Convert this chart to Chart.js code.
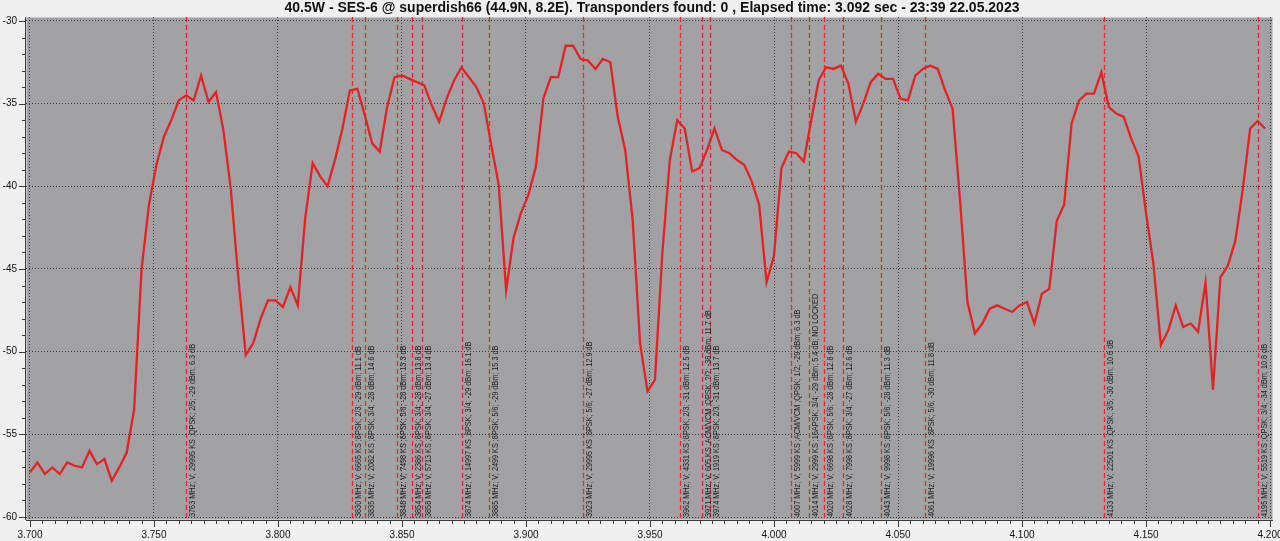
<!DOCTYPE html>
<html lang="en">
<head>
  <meta charset="UTF-8" />
  <title>SES-6 spectrum scan</title>
  <script src="https://cdn.jsdelivr.net/npm/chart.js"></script>
  <style>
    html, body {
      margin: 0;
      padding: 0;
      background: #f0f0f0;
    }

    /* Fixed size box, same as the screenshot */
    .chart-container {
      width: 1280px;
      height: 541px;
      position: relative;
    }
  </style>
</head>
<body>
  <div class="chart-container">
    <canvas id="spectrumChart"></canvas>
  </div>

  <script>
    const chartTitle = '40.5W - SES-6 @ superdish66 (44.9N, 8.2E). Transponders found: 0 , Elapsed time: 3.092 sec - 23:39 22.05.2023';

    // Sweep points (MHz) and measured level (dBm)
    const freqMHz = [
      3700, 3703, 3706, 3709, 3712, 3715, 3718, 3721, 3724, 3727,
      3730, 3733, 3736, 3739, 3742, 3745, 3748, 3751, 3754, 3757,
      3760, 3763, 3766, 3769, 3772, 3775, 3778, 3781, 3784, 3787,
      3790, 3793, 3796, 3799, 3802, 3805, 3808, 3811, 3814, 3817,
      3820, 3823, 3826, 3829, 3832, 3835, 3838, 3841, 3844, 3847,
      3850, 3853, 3856, 3859, 3862, 3865, 3868, 3871, 3874, 3877,
      3880, 3883, 3886, 3889, 3892, 3895, 3898, 3901, 3904, 3907,
      3910, 3913, 3916, 3919, 3922, 3925, 3928, 3931, 3934, 3937,
      3940, 3943, 3946, 3949, 3952, 3955, 3958, 3961, 3964, 3967,
      3970, 3973, 3976, 3979, 3982, 3985, 3988, 3991, 3994, 3997,
      4000, 4003, 4006, 4009, 4012, 4015, 4018, 4021, 4024, 4027,
      4030, 4033, 4036, 4039, 4042, 4045, 4048, 4051, 4054, 4057,
      4060, 4063, 4066, 4069, 4072, 4075, 4078, 4081, 4084, 4087,
      4090, 4093, 4096, 4099, 4102, 4105, 4108, 4111, 4114, 4117,
      4120, 4123, 4126, 4129, 4132, 4135, 4138, 4141, 4144, 4147,
      4150, 4153, 4156, 4159, 4162, 4165, 4168, 4171, 4174, 4177,
      4180, 4183, 4186, 4189, 4192, 4195, 4198
    ];

    const levelDbm = [
      -57.3, -56.7, -57.4, -57.0, -57.4, -56.7, -56.9, -57.0, -56.0, -56.8,
      -56.5, -57.8, -57.0, -56.1, -53.5, -45.0, -41.1, -38.7, -37.0, -36.0,
      -34.8, -34.5, -34.8, -33.3, -34.9, -34.3, -36.6, -40.2, -45.5, -50.2,
      -49.5, -48.0, -46.9, -46.9, -47.3, -46.1, -47.2, -41.9, -38.6, -39.4,
      -40.0, -38.4, -36.5, -34.2, -34.1, -35.7, -37.4, -37.9, -35.2, -33.4,
      -33.3, -33.5, -33.7, -33.9, -35.1, -36.1, -34.7, -33.6, -32.8, -33.4,
      -34.0, -35.0, -37.5, -39.9, -46.3, -43.1, -41.6, -40.5, -38.8, -34.7,
      -33.4, -33.4, -31.5, -31.5, -32.3, -32.4, -32.9, -32.3, -32.5, -35.8,
      -37.8, -42.0, -49.5, -52.4, -51.7, -44.0, -38.4, -36.0, -36.5, -39.1,
      -38.9, -37.8, -36.5, -37.8, -38.0, -38.4, -38.7, -39.7, -41.1, -45.8,
      -44.2, -38.9, -37.9, -38.0, -38.5, -36.0, -33.6, -32.8, -32.9, -32.7,
      -33.8, -36.1, -35.0, -33.7, -33.2, -33.5, -33.5, -34.7, -34.8, -33.3,
      -32.9, -32.7, -32.9, -34.2, -35.3, -40.8, -47.0, -48.9, -48.3, -47.4,
      -47.2, -47.4, -47.6, -47.2, -47.0, -48.3, -46.5, -46.2, -42.1, -41.1,
      -36.2, -34.8, -34.4, -34.4, -33.1, -35.2, -35.6, -35.8, -37.1, -38.2,
      -41.6, -44.7, -49.6, -48.7, -47.2, -48.5, -48.3, -48.8, -45.8, -52.3,
      -45.5, -44.8, -43.3, -40.2, -36.5, -36.05, -36.5
    ];

    // Transponders found by the blind scan
    const tpFreqMHz = [
      3763, 3830, 3835, 3848, 3854, 3858, 3874, 3885, 3923, 3962,
      3971, 3974, 4007, 4014, 4020, 4028, 4043, 4061, 4133, 4195
    ];

    const tpLabels = [
      '3763 MHz; V; 29995 KS ;QPSK; 2/5; -29 dBm; 6.3 dB',
      '3830 MHz; V; 6665 KS ;8PSK; 2/3; -29 dBm; 11.1 dB',
      '3835 MHz; V; 2082 KS ;8PSK; 3/4; -28 dBm; 14.6 dB',
      '3848 MHz; V; 7498 KS ;8PSK; 5/6; -28 dBm; 13.3 dB',
      '3854 MHz; V; 2386 KS ;8PSK; 3/4; -28 dBm; 13.8 dB',
      '3858 MHz; V; 5713 KS ;8PSK; 3/4; -27 dBm; 13.4 dB',
      '3874 MHz; V; 14997 KS ;8PSK; 3/4; -29 dBm; 16.1 dB',
      '3885 MHz; V; 2499 KS ;8PSK; 5/6; -29 dBm; 15.3 dB',
      '3923 MHz; V; 29995 KS ;8PSK; 5/6; -27 dBm; 12.9 dB',
      '3962 MHz; V; 4331 KS ;8PSK; 2/3; -31 dBm; 12.5 dB',
      '3971 MHz; V; 605 KS ;ACM/VCM ;QPSK; ?/?; -38 dBm; 11.7 dB',
      '3974 MHz; V; 1919 KS ;8PSK; 2/3; -31 dBm; 13.7 dB',
      '4007 MHz; V; 5999 KS ;ACM/VCM ;QPSK; 1/2; -29 dBm; 6.3 dB',
      '4014 MHz; V; 2999 KS ;16APSK; 3/4; -29 dBm; 5.4 dB; NO LOCKED',
      '4020 MHz; V; 6698 KS ;8PSK; 5/6; -28 dBm; 12.8 dB',
      '4028 MHz; V; 7998 KS ;8PSK; 3/4; -27 dBm; 12.6 dB',
      '4043 MHz; V; 9998 KS ;8PSK; 5/6; -28 dBm; 11.3 dB',
      '4061 MHz; V; 19996 KS ;8PSK; 5/6; -30 dBm; 11.8 dB',
      '4133 MHz; V; 22501 KS ;QPSK; 3/5; -30 dBm; 10.6 dB',
      '4195 MHz; V; 5519 KS ;QPSK; 3/4; -34 dBm; 10.8 dB'
    ];

    // Axis ticks
    const xTicks = [3.700, 3.750, 3.800, 3.850, 3.900, 3.950, 4.000, 4.050, 4.100, 4.150, 4.200];
    const yTicks = [-30, -35, -40, -45, -50, -55, -60];

    const FONT = '"Liberation Sans", Arial, sans-serif';
    const GRID_COLOR = 'rgba(45, 45, 45, 0.85)';
    const AXIS_COLOR = '#3c3c3c';
    const PLOT_BG = '#a1a1a6';
    const TRACE_RED = '#e52222';
    const TP_RED = '#e42a2a';

    // Background, title, transponder markers, minor ticks
    const scanDecor = {
      id: 'scanDecor',
      beforeDraw(chart) {
        const { ctx, chartArea: a } = chart;
        ctx.save();
        ctx.fillStyle = '#f0f0f0';
        ctx.fillRect(0, 0, chart.width, chart.height);
        ctx.fillStyle = PLOT_BG;
        ctx.fillRect(a.left, a.top, a.right - a.left, a.bottom - a.top);
        ctx.strokeStyle = '#c8c8c8';
        ctx.lineWidth = 1;
        ctx.strokeRect(a.left + 0.5, a.top + 0.5, a.right - a.left - 1, a.bottom - a.top - 1);

        // title sits a bit right of the centre, like the original program
        ctx.font = 'bold 14px ' + FONT;
        ctx.fillStyle = '#111';
        ctx.textAlign = 'center';
        ctx.textBaseline = 'middle';
        ctx.fillText(chartTitle, 652, 8.5);
        ctx.restore();
      },
      beforeDatasetsDraw(chart) {
        const { ctx, chartArea: a } = chart;
        const xs = chart.scales.x;
        ctx.save();
        ctx.strokeStyle = TP_RED;
        ctx.lineWidth = 1.3;
        ctx.setLineDash([5, 3]);
        tpFreqMHz.forEach(f => {
          const px = Math.round(xs.getPixelForValue(f / 1000)) + 0.5;
          ctx.beginPath();
          ctx.moveTo(px, a.top);
          ctx.lineTo(px, a.bottom);
          ctx.stroke();
        });
        ctx.restore();
      },
      afterDatasetsDraw(chart) {
        const { ctx, chartArea: a } = chart;
        const xs = chart.scales.x;
        const ys = chart.scales.y;
        ctx.save();

        // vertical transponder texts, reading bottom to top
        ctx.font = '9px ' + FONT;
        const squeeze = 173 / ctx.measureText(tpLabels[0]).width;
        ctx.fillStyle = '#1e1e1e';
        ctx.textAlign = 'left';
        ctx.textBaseline = 'top';
        tpFreqMHz.forEach((f, i) => {
          const px = Math.round(xs.getPixelForValue(f / 1000));
          ctx.save();
          ctx.translate(px + 2, a.bottom - 3);
          ctx.rotate(-Math.PI / 2);
          ctx.scale(squeeze, 1);
          ctx.fillText(tpLabels[i], 0, 0);
          ctx.restore();
        });

        // axis lines
        ctx.strokeStyle = AXIS_COLOR;
        ctx.lineWidth = 1;
        ctx.beginPath();
        ctx.moveTo(a.left - 0.5, a.top);
        ctx.lineTo(a.left - 0.5, a.bottom);
        ctx.moveTo(a.left, a.bottom + 0.5);
        ctx.lineTo(a.right, a.bottom + 0.5);
        ctx.stroke();

        // x ticks: major every 50 MHz, minor every 5 MHz
        ctx.beginPath();
        for (let m = 3700; m <= 4200; m += 5) {
          const px = Math.round(xs.getPixelForValue(m / 1000)) + 0.5;
          const len = m % 50 === 0 ? 7 : 4;
          ctx.moveTo(px, a.bottom);
          ctx.lineTo(px, a.bottom + len);
        }
        // y ticks: major every 5 dB, minor every 1 dB
        for (let d = -60; d <= -30; d += 1) {
          const py = Math.round(ys.getPixelForValue(d)) + 0.5;
          const len = d % 5 === 0 ? 7 : 4;
          ctx.moveTo(a.left - len, py);
          ctx.lineTo(a.left, py);
        }
        ctx.stroke();
        ctx.restore();
      }
    };

    const ctx = document.getElementById('spectrumChart').getContext('2d');
    const spectrumChart = new Chart(ctx, {
      type: 'scatter',
      data: {
        datasets: [{
          label: 'Level',
          data: freqMHz.map((f, i) => ({ x: f / 1000, y: levelDbm[i] })),
          showLine: true,
          borderColor: TRACE_RED,
          borderWidth: 2.3,
          pointRadius: 0,
          tension: 0
        }]
      },
      options: {
        responsive: true,
        maintainAspectRatio: false,
        animation: false,
        layout: {
          padding: { left: 0, right: 7, top: 17, bottom: 0 }
        },
        plugins: {
          legend: { display: false },
          tooltip: { enabled: false },
          title: { display: false }
        },
        scales: {
          x: {
            type: 'linear',
            min: 3.6984,
            max: 4.2012,
            afterBuildTicks: (scale) => {
              scale.ticks = xTicks.map(v => ({ value: v }));
            },
            afterFit: (scale) => {
              scale.height = 21;
              scale.paddingLeft = 0;
              scale.paddingRight = 0;
            },
            ticks: {
              callback: (v) => v.toFixed(3),
              color: '#111',
              font: { family: FONT, size: 10 },
              padding: 9,
              maxRotation: 0,
              autoSkip: false
            },
            grid: { color: GRID_COLOR, drawTicks: false, lineWidth: 1 },
            border: { display: false, dash: [1, 2] }
          },
          y: {
            type: 'linear',
            min: -60.18,
            max: -29.76,
            afterBuildTicks: (scale) => {
              scale.ticks = yTicks.map(v => ({ value: v }));
            },
            afterFit: (scale) => {
              scale.width = 26;
              scale.paddingTop = 0;
              scale.paddingBottom = 0;
            },
            ticks: {
              callback: (v) => String(v),
              color: '#111',
              font: { family: FONT, size: 10 },
              padding: 9
            },
            grid: { color: GRID_COLOR, drawTicks: false, lineWidth: 1 },
            border: { display: false, dash: [1, 2] }
          }
        }
      },
      plugins: [scanDecor]
    });
  </script>
</body>
</html>
